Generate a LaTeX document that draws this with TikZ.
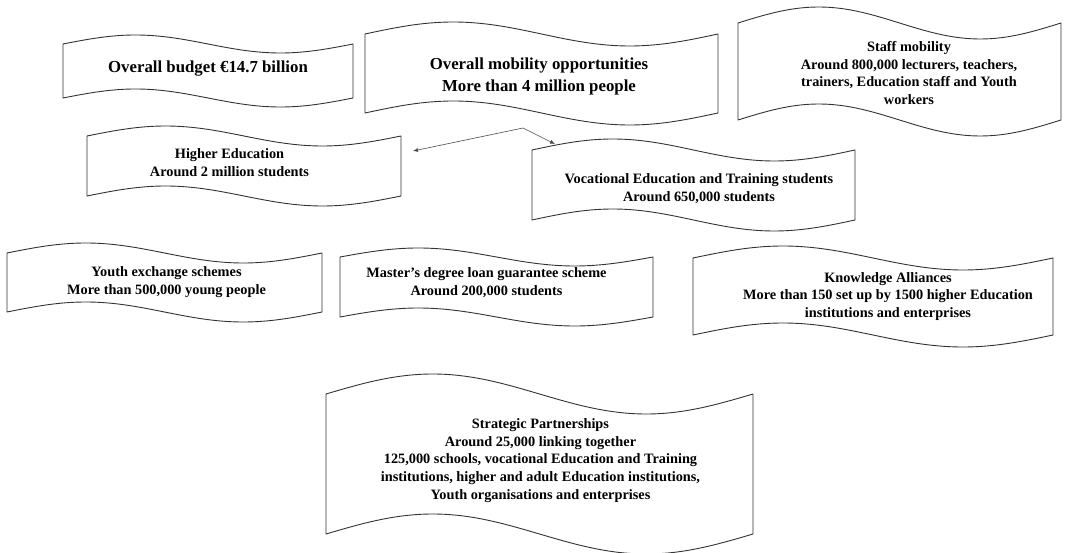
\documentclass[tikz,border=0pt]{standalone}
\usepackage{fontspec}
\setmainfont{Liberation Serif}
\usetikzlibrary{arrows.meta}
% #1 left x, #2 top-left y, #3 width, #4 height at edges, #5 wave amplitude
\newcommand\tapebox[5]{%
  \draw[tape] (#1,#2) sin ({#1+#3/4},{#2-#5}) cos ({#1+#3/2},#2)
    sin ({#1+3*#3/4},{#2+#5}) cos ({#1+#3},#2)
    -- ({#1+#3},{#2+#4}) sin ({#1+3*#3/4},{#2+#4+#5}) cos ({#1+#3/2},{#2+#4})
    sin ({#1+#3/4},{#2+#4-#5}) cos (#1,{#2+#4}) -- cycle;}
\tikzset{
  tape/.style={draw=black!80, line width=0.9pt, line join=round},
  bigtext/.style={font=\fontsize{16.8}{22}\selectfont\bfseries, align=center, inner sep=0pt},
  smalltext/.style={font=\fontsize{14.3}{17.8}\selectfont\bfseries, align=center, inner sep=0pt},
  conn/.style={draw=black!70, line width=0.6pt, -{Latex[length=5pt,width=4pt]}}
}
\begin{document}
\begin{tikzpicture}[x=1pt,y=-1pt]
\fill[white] (0,0) rectangle (1065,553);
\useasboundingbox (0,0) rectangle (1065,553);
% tapes
\tapebox{63}{44}{290}{54}{9}
\tapebox{365}{34}{353}{79}{12}
\tapebox{738}{23}{323}{97}{16}
\tapebox{87}{136}{314}{60}{10}
\tapebox{532}{150}{323}{70}{11}
\tapebox{7}{253}{315}{59}{10}
\tapebox{340}{257}{313}{60}{9}
\tapebox{693}{258}{360}{77}{12}
\tapebox{326}{394}{427}{140}{20}
% texts
\node[bigtext] (budget) at (208,68.5) {Overall budget €14.7 billion};
\node[bigtext] (mobility) at (539,76) {Overall mobility opportunities\\More than 4 million people};
\node[smalltext] (staff) at (909,73) {Staff mobility\\Around 800,000 lecturers, teachers,\\trainers, Education staff and Youth\\workers};
\node[smalltext] (higher) at (229.5,162.5) {Higher Education\\Around 2 million students};
\node[smalltext] (vet) at (699,188.5) {Vocational Education and Training students\\Around 650,000 students};
\node[smalltext] (youth) at (166.5,282.5) {Youth exchange schemes\\More than 500,000 young people};
\node[smalltext] (master) at (486.5,282.5) {Master's degree loan guarantee scheme\\Around 200,000 students};
\node[smalltext] (knowledge) at (888,296.5) {Knowledge Alliances\\More than 150 set up by 1500 higher Education\\institutions and enterprises};
\node[smalltext] (strategic) at (540.5,460.5) {Strategic Partnerships\\Around 25,000 linking together\\125,000 schools, vocational Education and Training\\institutions, higher and adult Education institutions,\\Youth organisations and enterprises};
% connectors
\coordinate (split) at (523,128);
\coordinate (heIn) at (413,151);
\coordinate (vetIn) at (555,144);
\draw[conn] (split) -- (heIn);
\draw[conn] (split) -- (vetIn);
\end{tikzpicture}
\end{document}
